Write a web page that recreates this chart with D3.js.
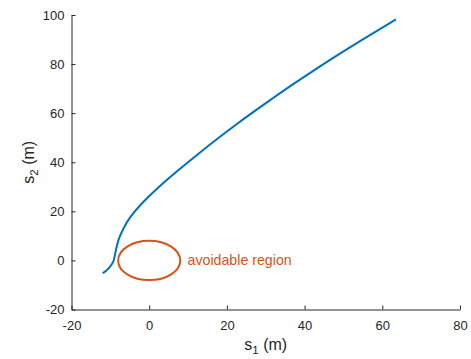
<!DOCTYPE html>
<html>
<head>
<meta charset="utf-8">
<script src="https://cdn.jsdelivr.net/npm/d3@7"></script>
<style>
  html, body { margin: 0; padding: 0; background: #fff; }
  svg { display: block; font-family: "Liberation Sans", Arial, Helvetica, sans-serif; }
</style>
</head>
<body>
<svg id="chart" width="471" height="359"></svg>
<script>
// ---- data ----
const pathS1 = [-12.0, -11.0, -10.0, -9.2, -8.9, -8.6, -7.95, -6.65, -4.9, -2.35, 1.1, 5.0, 9.1, 13.3, 17.7, 22.2, 26.9, 31.8, 36.7, 41.0, 47.4, 55.4, 63.5];
const pathS2 = [-5.2, -4.2, -2.4, -0.7, 1.5, 4.0, 8.6, 13.1, 17.8, 22.6, 28.0, 33.5, 38.9, 44.3, 49.8, 55.2, 60.6, 66.1, 71.5, 76.0, 82.6, 90.5, 98.2];
const regionCenter = [0, 0];
const regionRadius = [8];
const regionLabel = ["avoidable region"];
const xTicks = [-20, 0, 20, 40, 60, 80];
const yTicks = [-20, 0, 20, 40, 60, 80, 100];
const xDomain = [-20, 80];
const yDomain = [-20, 100];

// ---- layout ----
const svg = d3.select("#chart");
const mLeft = 71.5, mRight = 460, mTop = 15, mBottom = 309.5;
const axisColor = "#262626";
const blue = "#0072BD", orange = "#D95319";

const x = d3.scaleLinear().domain(xDomain).range([mLeft, mRight]);
const y = d3.scaleLinear().domain(yDomain).range([mBottom, mTop]);
const fmt = d => String(d);

// x axis
const gx = svg.append("g").attr("transform", `translate(0,${mBottom})`)
  .call(d3.axisBottom(x).tickValues(xTicks).tickFormat(fmt).tickSizeInner(-4).tickSizeOuter(0).tickPadding(11));
// y axis
const gy = svg.append("g").attr("transform", `translate(${mLeft},0)`)
  .call(d3.axisLeft(y).tickValues(yTicks).tickFormat(fmt).tickSizeInner(-4).tickSizeOuter(0).tickPadding(7));

[gx, gy].forEach(g => {
  g.select(".domain").attr("stroke", axisColor).attr("stroke-width", 1);
  g.selectAll(".tick line").attr("stroke", axisColor).attr("stroke-width", 1);
  g.selectAll(".tick text").attr("fill", axisColor).attr("font-size", 13)
    .attr("font-family", "'Liberation Sans', Arial, sans-serif");
});

// trajectory
const pts = pathS1.map((v, i) => [v, pathS2[i]]);
const line = d3.line().x(d => x(d[0])).y(d => y(d[1])).curve(d3.curveBasis);
svg.append("path").datum(pts)
  .attr("d", line).attr("fill", "none").attr("stroke", blue)
  .attr("stroke-width", 2).attr("stroke-linejoin", "round").attr("stroke-linecap", "butt");

// avoidable region (circle of radius r in data units)
svg.append("ellipse")
  .attr("cx", x(regionCenter[0])).attr("cy", y(regionCenter[1]))
  .attr("rx", x(regionRadius[0]) - x(0)).attr("ry", y(0) - y(regionRadius[0]))
  .attr("fill", "none").attr("stroke", orange).attr("stroke-width", 2);

svg.append("text")
  .attr("x", x(regionCenter[0] + regionRadius[0] + 2) - 0.5).attr("y", y(0))
  .attr("dy", "0.35em")
  .attr("fill", orange).attr("font-size", 14.2)
  .text(regionLabel[0]);

// axis labels
const xl = svg.append("text").attr("x", (mLeft + mRight) / 2).attr("y", 350)
  .attr("text-anchor", "middle").attr("fill", axisColor).attr("font-size", 16);
xl.append("tspan").text("s");
xl.append("tspan").attr("font-size", 11.5).attr("dy", 4).text("1");
xl.append("tspan").attr("dy", -4).text(" (m)");

const yl = svg.append("text")
  .attr("transform", `translate(34,${(mTop + mBottom) / 2}) rotate(-90)`)
  .attr("text-anchor", "middle").attr("fill", axisColor).attr("font-size", 16);
yl.append("tspan").text("s");
yl.append("tspan").attr("font-size", 11.5).attr("dy", 4).text("2");
yl.append("tspan").attr("dy", -4).text(" (m)");
</script>
</body>
</html>
